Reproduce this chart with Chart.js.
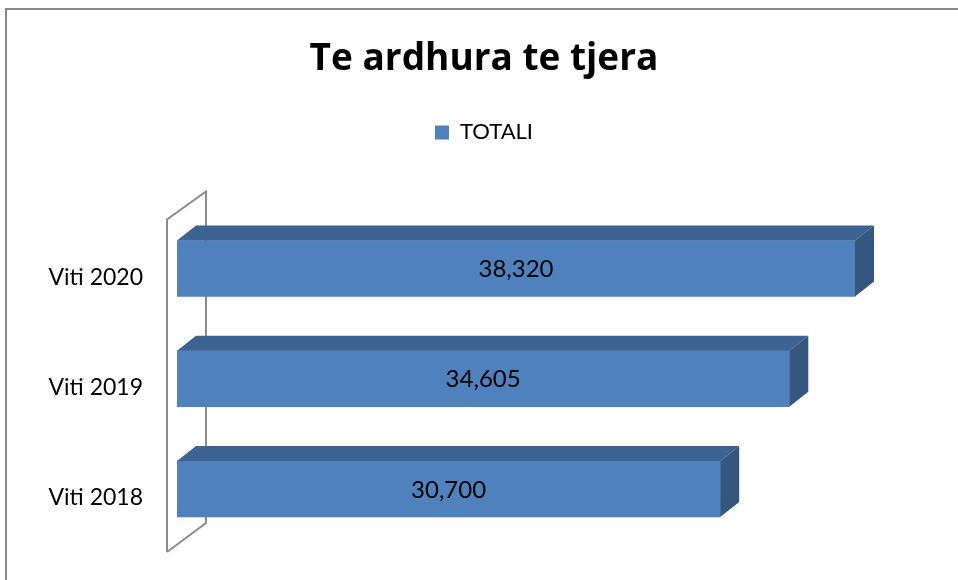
<!DOCTYPE html>
<html>
<head>
<meta charset="utf-8">
<script src="https://cdn.jsdelivr.net/npm/chart.js@4.4.0/dist/chart.umd.min.js"></script>
<style>
  html, body { margin: 0; padding: 0; width: 958px; height: 580px; overflow: hidden; background: #fff; }
  #frame { position: absolute; left: 5px; top: 8px; width: 1000px; height: 640px; border: 2px solid #8a8a8a; }
  #myChart { position: absolute; left: 0; top: 0; }
</style>
</head>
<body>
<div id="frame"></div>
<canvas id="myChart" width="958" height="580"></canvas>
<script>
const categories = ['Viti 2020', 'Viti 2019', 'Viti 2018'];
const totals = [38320, 34605, 30700];
const seriesName = 'TOTALI';
const chartTitle = 'Te ardhura te tjera';

const frontColor = '#4F81BD';
const topColor = '#3D6392';
const sideColor = '#34567F';
const depthX = 19;
const depthY = 15;

// back wall of the 3d plot, drawn under the bars
const wallPlugin = {
    id: 'wall',
    beforeDatasetsDraw(chart) {
        const ctx = chart.ctx;
        const area = chart.chartArea;
        const fx = area.left - 10;
        const bx = area.left + 29;
        ctx.save();
        ctx.strokeStyle = '#8c8c8c';
        ctx.lineWidth = 2;
        ctx.beginPath();
        ctx.moveTo(fx, area.bottom + 8);
        ctx.lineTo(fx, area.top + 6);
        ctx.lineTo(bx, area.top - 22);
        ctx.lineTo(bx, area.bottom - 21);
        ctx.lineTo(fx, area.bottom + 8);
        ctx.stroke();
        ctx.restore();
    }
};

// top and side faces plus value labels
const bar3dPlugin = {
    id: 'bar3d',
    afterDatasetsDraw(chart) {
        const ctx = chart.ctx;
        const meta = chart.getDatasetMeta(0);
        ctx.save();
        meta.data.forEach((bar, i) => {
            const top = bar.y - bar.height / 2;
            const bottom = bar.y + bar.height / 2;
            const left = bar.base;
            const right = bar.x;

            ctx.fillStyle = topColor;
            ctx.beginPath();
            ctx.moveTo(left, top);
            ctx.lineTo(left + depthX, top - depthY);
            ctx.lineTo(right + depthX, top - depthY);
            ctx.lineTo(right, top);
            ctx.closePath();
            ctx.fill();

            ctx.fillStyle = sideColor;
            ctx.beginPath();
            ctx.moveTo(right, top);
            ctx.lineTo(right + depthX, top - depthY);
            ctx.lineTo(right + depthX, bottom - depthY);
            ctx.lineTo(right, bottom);
            ctx.closePath();
            ctx.fill();

            ctx.fillStyle = '#000';
            ctx.font = '24px Lato';
            ctx.textAlign = 'center';
            ctx.textBaseline = 'middle';
            ctx.fillText(totals[i].toLocaleString('en-US'), (left + right) / 2, bar.y + 1);
        });
        ctx.restore();
    }
};

const ctx = document.getElementById('myChart').getContext('2d');
const myChart = new Chart(ctx, {
    type: 'bar',
    data: {
        labels: categories,
        datasets: [
            {
                label: seriesName,
                data: totals,
                backgroundColor: frontColor,
                borderWidth: 0,
                barThickness: 56
            }
        ]
    },
    options: {
        responsive: false,
        animation: false,
        indexAxis: 'y',
        layout: {
            padding: { top: 0, right: 0, bottom: 36, left: 10 }
        },
        plugins: {
            title: {
                display: true,
                text: chartTitle,
                color: '#000',
                font: { family: 'Open Sans', size: 37, weight: 'bold', lineHeight: 1.2 },
                padding: { top: 37, bottom: 30 }
            },
            legend: {
                display: true,
                labels: {
                    color: '#000',
                    font: { family: 'Lato', size: 22 },
                    boxWidth: 14,
                    boxHeight: 14,
                    padding: 10
                }
            },
            tooltip: { enabled: false }
        },
        scales: {
            x: {
                position: 'top',
                min: 0,
                max: 44140,
                grid: { display: false },
                border: { display: false },
                ticks: { display: false },
                afterFit(scale) { scale.height = 60; }
            },
            y: {
                grid: { display: false },
                border: { display: false },
                ticks: {
                    color: '#000',
                    font: { family: 'Lato', size: 23 },
                    padding: 26,
                    labelOffset: 9
                },
                afterFit(scale) {
                    scale.width = 167;
                    scale.paddingTop = 0;
                    scale.paddingBottom = 0;
                }
            }
        }
    },
    plugins: [wallPlugin, bar3dPlugin]
});
</script>
</body>
</html>
